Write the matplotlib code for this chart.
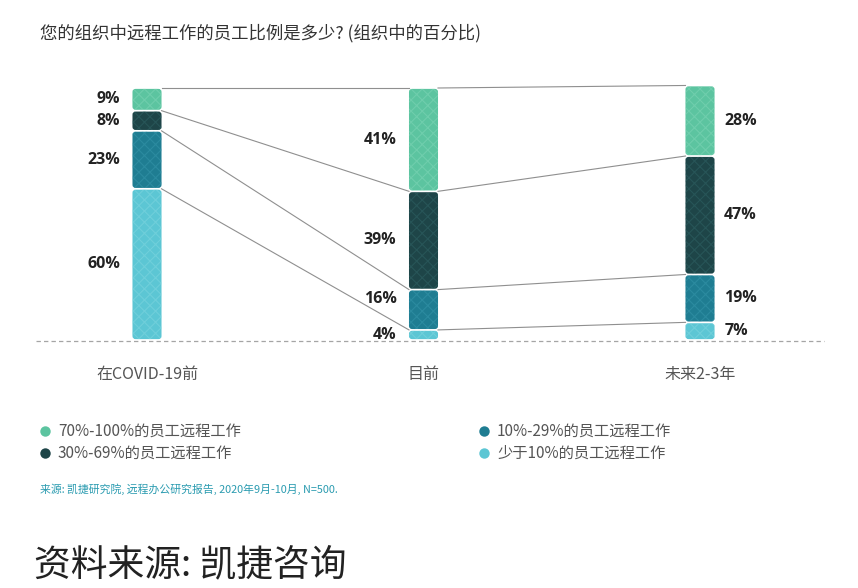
import matplotlib
matplotlib.use("Agg")
import matplotlib.pyplot as plt
from matplotlib.patches import FancyBboxPatch
import numpy as np

plt.rcParams['font.family'] = ['Noto Sans CJK SC', 'DejaVu Sans']
plt.rcParams['hatch.linewidth'] = 0.8

# ---- data ----
categories = ["在COVID-19前", "目前", "未来2-3年"]
series_names = ["少于10%的员工远程工作", "10%-29%的员工远程工作",
                "30%-69%的员工远程工作", "70%-100%的员工远程工作"]
lt10 = [60, 4, 7]
p10_29 = [23, 16, 19]
p30_69 = [8, 39, 47]
p70_100 = [9, 41, 28]
series_values = [lt10, p10_29, p30_69, p70_100]
series_colors = ["#5cc6d4", "#1f7d92", "#1e4548", "#5cc4a0"]
hatch_colors = ["#86d9e2", "#3b9bb0", "#32686a", "#86d9bb"]

title = "您的组织中远程工作的员工比例是多少? (组织中的百分比)"
source = "来源: 凯捷研究院, 远程办公研究报告, 2020年9月-10月, N=500."
footer = "资料来源: 凯捷咨询"

W, H = 858, 588
fig = plt.figure(figsize=(W / 100, H / 100), dpi=100)

# axes placement: y=0 at px 340, y=100 at px 88
xlo, xhi = -0.4, 2.45
ylo, yhi = 0, 102
ppx = 276.5
ppy = 2.52
left_px = 147 + xlo * ppx
right_px = 147 + xhi * ppx
bot_px = 340
top_px = 340 - yhi * ppy
ax = fig.add_axes([left_px / W, 1 - bot_px / H, (right_px - left_px) / W, (bot_px - top_px) / H])
ax.set_xlim(xlo, xhi)
ax.set_ylim(ylo, yhi)
ax.axis('off')

x = np.arange(len(categories))
bw = 0.105

ax.plot([xlo, xhi], [-0.3, -0.3], color="#a5a5a5", lw=0.9, ls=(0, (3.5, 2.5)), zorder=1, clip_on=False)

# small vertical nudges (points) for labels that would touch a connector
label_nudge = {(1, 1): 8}

bottoms = np.zeros(len(categories))
tops_per_series = []
for si, (vals, col, hc) in enumerate(zip(series_values, series_colors, hatch_colors)):
    bars = ax.bar(x, vals, bw, bottom=bottoms, color=col, alpha=0)
    for r in bars:
        x0, y0 = r.get_x(), r.get_y()
        w, h = r.get_width(), r.get_height()
        rs = 0.011
        asp = (3 / ppy) / rs
        p = FancyBboxPatch((x0, y0 + 0.35), w, h - 0.7,
                           boxstyle=f"round,pad=0,rounding_size={rs}",
                           mutation_aspect=asp, fc=col, ec="none", zorder=3)
        ax.add_patch(p)
        p2 = FancyBboxPatch((x0, y0 + 0.35), w, h - 0.7,
                            boxstyle=f"round,pad=0,rounding_size={rs}",
                            mutation_aspect=asp, fc="none", ec=hc, lw=0,
                            hatch="xxx", zorder=4, alpha=0.45)
        ax.add_patch(p2)
    tops_per_series.append(bottoms + np.array(vals))
    for i, (v, b) in enumerate(zip(vals, bottoms)):
        yc = b + v / 2
        dy = label_nudge.get((i, si), 0)
        if i == 2:
            ax.annotate(f"{v}%", (x[i] + bw / 2, yc), xytext=(7, dy), textcoords="offset points",
                        ha="left", va="center", fontsize=11.5, fontweight="bold",
                        color="#222222", family=["Open Sans", "DejaVu Sans"])
        else:
            ax.annotate(f"{v}%", (x[i] - bw / 2, yc), xytext=(-9, dy), textcoords="offset points",
                        ha="right", va="center", fontsize=11.5, fontweight="bold",
                        color="#222222", family=["Open Sans", "DejaVu Sans"])
    bottoms = bottoms + np.array(vals)

# connector lines: top of each segment
for tops in tops_per_series:
    for i in range(len(categories) - 1):
        ax.plot([x[i] + bw / 2, x[i + 1] - bw / 2], [tops[i], tops[i + 1]],
                color="#8f8f8f", lw=0.8, zorder=2)

# category labels
for i, c in enumerate(categories):
    ax.annotate(c, (x[i], 0), xytext=(0, -25), textcoords="offset points",
                ha="center", va="center", fontsize=11.5, color="#555555")

# title
fig.text(40 / W, 1 - 33 / H, title, fontsize=12.5, color="#333333", ha="left", va="center")

# legend
legend_pos = [(45, 431, 3), (45, 453, 2), (484, 431, 1), (484, 453, 0)]
for lx, ly, si in legend_pos:
    fig.lines.append(plt.Line2D([lx / W], [1 - ly / H], marker="o", ms=7.5,
                                color=series_colors[si], mec="none", ls="none",
                                transform=fig.transFigure))
    fig.text((lx + 13) / W, 1 - ly / H, series_names[si], fontsize=11,
             color="#555555", ha="left", va="center")

fig.text(40 / W, 1 - 489 / H, source, fontsize=7.8, color="#2a9bb0", ha="left", va="center")
fig.text(34 / W, 1 - 565 / H, footer, fontsize=26.5, color="#222222", ha="left", va="center")

fig.savefig("out.png", dpi=100, facecolor="white")
